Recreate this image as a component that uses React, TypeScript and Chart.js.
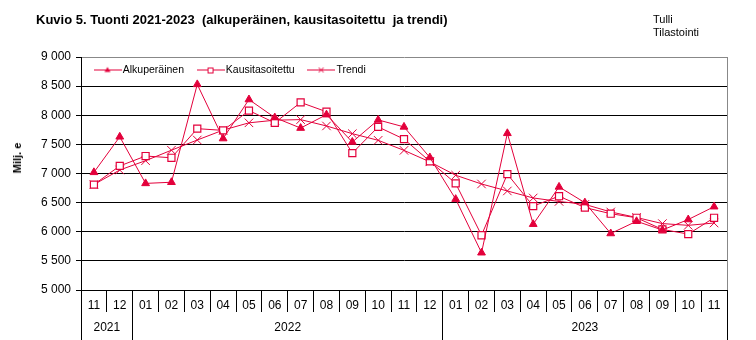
import React, { useEffect, useRef } from 'react';
import { Chart, registerables } from 'chart.js';

Chart.register(...registerables);

const TITLE = 'Kuvio 5. Tuonti 2021-2023  (alkuperäinen, kausitasoitettu  ja trendi)';
const SOURCE_LINES = ['Tulli', 'Tilastointi'];
const Y_TITLE = 'Milj. e';

const months = ['11', '12', '01', '02', '03', '04', '05', '06', '07', '08', '09', '10', '11', '12', '01', '02', '03', '04', '05', '06', '07', '08', '09', '10', '11'];
const years = ['2021', '2022', '2023'];
const yearMonthCounts = [2, 12, 11];

const Y_MIN = 5000;
const Y_MAX = 9000;
const Y_STEP = 500;

const seriesNames = ['Alkuperäinen', 'Kausitasoitettu', 'Trendi'];
const alkuperainen = [7020, 7630, 6830, 6850, 8530, 7600, 8270, 7960, 7780, 8010, 7540, 7920, 7800, 7275, 6560, 5640, 7690, 6130, 6770, 6500, 5970, 6180, 6030, 6210, 6430];
const kausitasoitettu = [6810, 7130, 7300, 7270, 7770, 7740, 8080, 7870, 8220, 8060, 7350, 7800, 7590, 7210, 6830, 5940, 6990, 6440, 6610, 6415, 6310, 6240, 6040, 5960, 6240];
const trendi = [6810, 7060, 7220, 7400, 7575, 7745, 7870, 7915, 7925, 7816, 7684, 7570, 7397, 7200, 6970, 6820, 6700, 6580, 6520, 6470, 6340, 6245, 6140, 6110, 6150];

const RED = '#e3003b';
const FONT = '"Liberation Sans", Arial, Helvetica, sans-serif';

function fmt(v: number) {
  return String(v).replace(/\B(?=(\d{3})+(?!\d))/g, ' ');
}

function legendImage(kind: string) {
  const c = document.createElement('canvas');
  c.width = 28;
  c.height = 11;
  const g = c.getContext('2d')!;
  g.strokeStyle = RED;
  g.lineWidth = 1;
  g.beginPath();
  g.moveTo(0, 5.5);
  g.lineTo(28, 5.5);
  g.stroke();
  if (kind === 'triangle') {
    g.fillStyle = RED;
    g.beginPath();
    g.moveTo(14, 2.5);
    g.lineTo(17, 7.5);
    g.lineTo(11, 7.5);
    g.closePath();
    g.fill();
  } else if (kind === 'rect') {
    g.fillStyle = '#fff';
    g.fillRect(11.5, 3.5, 5, 5);
    g.strokeRect(11.5, 3.5, 5, 5);
  } else {
    g.beginPath();
    g.moveTo(11.5, 3);
    g.lineTo(16.5, 8);
    g.moveTo(16.5, 3);
    g.lineTo(11.5, 8);
    g.stroke();
  }
  return c;
}

const LEGEND_CENTER_Y = 70;
const LEGEND_PAD = 16.5;
const LEGEND_FONT = 10.5;

const separatorPlugin = {
  id: 'separators',
  afterLayout(chart: any) {
    const lg = chart.legend;
    if (lg) {
      const h = lg.bottom - lg.top;
      const newTop = LEGEND_CENTER_Y - LEGEND_PAD - LEGEND_FONT / 2;
      lg.top = newTop;
      lg.bottom = newTop + h;
    }
  },
  afterDraw(chart: any) {
    const { ctx, chartArea } = chart;
    const xs = chart.scales.x;
    const n = months.length;
    const yearBounds: number[] = [0];
    let acc = 0;
    yearMonthCounts.forEach((c) => {
      acc += c;
      yearBounds.push(acc);
    });
    const boundary = (i: number) => {
      if (i <= 0) return chartArea.left;
      if (i >= n) return chartArea.right;
      return (xs.getPixelForValue(i - 1) + xs.getPixelForValue(i)) / 2;
    };
    const bottom = chartArea.bottom;
    ctx.save();
    ctx.lineWidth = 1;
    ctx.strokeStyle = '#000';
    for (let i = 0; i <= n; i++) {
      const px = Math.floor(boundary(i)) + 0.5;
      const isYear = yearBounds.includes(i);
      ctx.beginPath();
      ctx.moveTo(px, bottom);
      ctx.lineTo(px, isYear ? chart.height : bottom + 22);
      ctx.stroke();
    }
    ctx.strokeStyle = '#888';
    const rx = Math.floor(chartArea.right) + 0.5;
    ctx.beginPath();
    ctx.moveTo(rx, chartArea.top);
    ctx.lineTo(rx, bottom);
    ctx.stroke();
    ctx.restore();
  },
};

export default function App() {
  const ref = useRef<HTMLCanvasElement | null>(null);

  useEffect(() => {
    document.body.style.margin = '0';
    const canvas = ref.current;
    if (!canvas) return;
    Chart.defaults.font.family = FONT;
    Chart.defaults.color = '#000';

    const yearCenters: number[] = [];
    let start = 0;
    yearMonthCounts.forEach((c) => {
      yearCenters.push(start + (c - 1) / 2);
      start += c;
    });

    const images = [legendImage('triangle'), legendImage('rect'), legendImage('cross')];

    const chart = new Chart(canvas, {
      type: 'line',
      data: {
        labels: months,
        datasets: [
          {
            label: seriesNames[0],
            data: alkuperainen,
            borderColor: RED,
            backgroundColor: RED,
            borderWidth: 1,
            pointStyle: 'triangle',
            pointRadius: 4.5,
            pointBackgroundColor: RED,
            pointBorderColor: RED,
            pointBorderWidth: 1,
            tension: 0,
          },
          {
            label: seriesNames[1],
            data: kausitasoitettu,
            borderColor: RED,
            backgroundColor: '#fff',
            borderWidth: 1,
            pointStyle: 'rect',
            pointRadius: 5,
            pointBackgroundColor: '#fff',
            pointBorderColor: RED,
            pointBorderWidth: 1.2,
            tension: 0,
          },
          {
            label: seriesNames[2],
            data: trendi,
            borderColor: RED,
            backgroundColor: RED,
            borderWidth: 1,
            pointStyle: 'crossRot',
            pointRadius: 6,
            pointBorderColor: RED,
            pointBorderWidth: 1,
            tension: 0,
          },
        ],
      },
      options: {
        animation: false,
        responsive: false,
        events: [],
        layout: { padding: { left: 0, top: 27, right: 29, bottom: 0 } },
        plugins: {
          tooltip: { enabled: false },
          legend: {
            position: 'top',
            align: 'start',
            fullSize: false,
            maxHeight: 30,
            labels: {
              usePointStyle: true,
              pointStyleWidth: 20,
              padding: LEGEND_PAD,
              color: '#000',
              font: { size: LEGEND_FONT, family: FONT },
              generateLabels: () =>
                seriesNames.map((name, i) => ({
                  text: name,
                  pointStyle: images[i] as any,
                  fillStyle: RED,
                  strokeStyle: RED,
                  lineWidth: 0,
                  hidden: false,
                  datasetIndex: i,
                  fontColor: '#000',
                })),
            },
          },
        },
        scales: {
          x: {
            type: 'category',
            offset: true,
            weight: 0,
            grid: { display: true, drawOnChartArea: false, drawTicks: false, offset: true },
            border: { display: true, color: '#000', width: 1 },
            ticks: { padding: 8, autoSkip: false, maxRotation: 0, minRotation: 0, color: '#000', font: { size: 12, family: FONT } },
            afterFit: (s: any) => {
              s.height = 22;
            },
          },
          x2: {
            type: 'linear',
            position: 'bottom',
            weight: 1,
            min: -0.5,
            max: months.length - 0.5,
            bounds: 'data',
            grid: { display: false, drawTicks: false },
            border: { display: false },
            afterBuildTicks: (axis: any) => {
              axis.ticks = yearCenters.map((v) => ({ value: v }));
            },
            ticks: {
              autoSkip: false,
              maxRotation: 0,
              minRotation: 0,
              padding: 8,
              color: '#000',
              font: { size: 12, family: FONT },
              callback: (_v: any, idx: number) => years[idx],
            },
            afterFit: (s: any) => {
              s.height = 28;
            },
          },
          y: {
            type: 'linear',
            min: Y_MIN,
            max: Y_MAX,
            grid: {
              color: (c: any) => (c.tick && c.tick.value === Y_MAX ? '#888' : '#000'),
              lineWidth: 1,
              drawTicks: true,
              tickLength: 5,
              tickColor: '#000',
            },
            border: { display: true, color: '#000', width: 1 },
            ticks: {
              stepSize: Y_STEP,
              padding: 5,
              color: '#000',
              font: { size: 12, family: FONT },
              callback: (v: any) => fmt(Number(v)),
            },
            afterFit: (s: any) => {
              s.width = 81;
            },
          },
        },
      } as any,
      plugins: [separatorPlugin],
    });

    return () => chart.destroy();
  }, []);

  return (
    <div style={{ position: 'relative', width: 756, height: 340, background: '#fff', overflow: 'hidden' }}>
      <canvas ref={ref} width={756} height={340} style={{ display: 'block', width: 756, height: 340 }} />
      <div
        style={{
          position: 'absolute',
          left: 36,
          top: 12,
          font: `bold 13px ${FONT}`,
          whiteSpace: 'pre',
          color: '#000',
          lineHeight: '15px',
        }}
      >
        {TITLE}
      </div>
      <div
        style={{
          position: 'absolute',
          left: 653,
          top: 13,
          font: `11px ${FONT}`,
          lineHeight: '13px',
          color: '#000',
        }}
      >
        {SOURCE_LINES.map((s) => (
          <div key={s}>{s}</div>
        ))}
      </div>
      <div
        style={{
          position: 'absolute',
          left: 16.5,
          top: 158,
          transform: 'translate(-50%, -50%) rotate(-90deg)',
          font: `bold 11px ${FONT}`,
          whiteSpace: 'pre',
          color: '#000',
        }}
      >
        {Y_TITLE}
      </div>
    </div>
  );
}
